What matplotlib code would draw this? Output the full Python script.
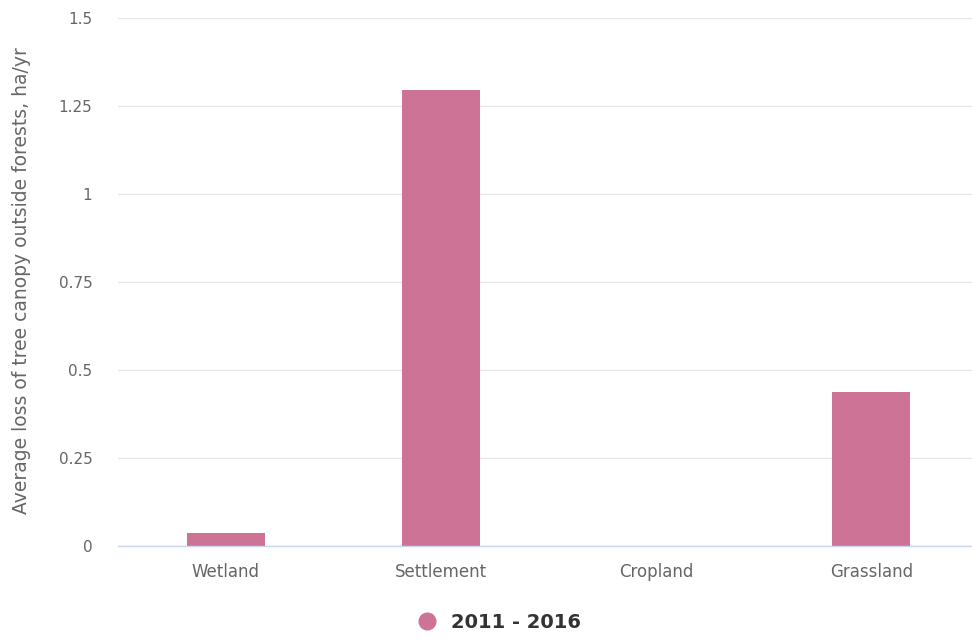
import matplotlib
matplotlib.use("Agg")
import matplotlib.pyplot as plt
from matplotlib.lines import Line2D

plt.rcParams["font.family"] = ["DejaVu Sans"]

categories = ["Wetland", "Settlement", "Cropland", "Grassland"]
loss_2011_2016 = [0.036, 1.295, 0.0, 0.438]
y_ticks = [0, 0.25, 0.5, 0.75, 1, 1.25, 1.5]
y_tick_labels = ["0", "0.25", "0.5", "0.75", "1", "1.25", "1.5"]
series_label = "2011 - 2016"
y_title = "Average loss of tree canopy outside forests, ha/yr"

bar_color = "#cc7396"

fig = plt.figure(figsize=(9.72, 6.39), dpi=100)
# plot area runs slightly past the right edge of the image, as in the source
ax = fig.add_axes([118 / 972, 1 - 546 / 639, 861 / 972, 528 / 639])

x = range(len(categories))
ax.bar(x, loss_2011_2016, width=0.362, color=bar_color, zorder=3)

ax.set_xlim(-0.5, len(categories) - 0.5)
ax.set_ylim(0, 1.5)
ax.set_yticks(y_ticks)
ax.set_yticklabels(y_tick_labels)
ax.set_xticks(list(x))
ax.set_xticklabels(categories)

ax.grid(axis="y", color="#e6e6e6", linewidth=1, zorder=0)
for side in ["top", "right", "left"]:
    ax.spines[side].set_visible(False)
ax.spines["bottom"].set_color("#ccd6eb")
ax.spines["bottom"].set_linewidth(1)
ax.spines["bottom"].set_zorder(4)

ax.tick_params(axis="y", length=0, pad=18.5, labelsize=11, labelcolor="#666666")
ax.tick_params(axis="x", length=0, pad=12, labelsize=12, labelcolor="#666666")

fig.text(22 / 972, 1 - 281 / 639, y_title, rotation=90, ha="center", va="center",
         fontsize=13.5, color="#666666")

handle = Line2D([], [], marker="o", linestyle="none", markersize=12,
                markerfacecolor=bar_color, markeredgecolor=bar_color)
leg = fig.legend([handle], [series_label], loc="center",
                 bbox_to_anchor=(494 / 972, 1 - 622 / 639), frameon=False,
                 handletextpad=0.25, prop={"weight": "bold", "size": 14})
for t in leg.get_texts():
    t.set_color("#333333")

fig.savefig("out.png", dpi=100)
